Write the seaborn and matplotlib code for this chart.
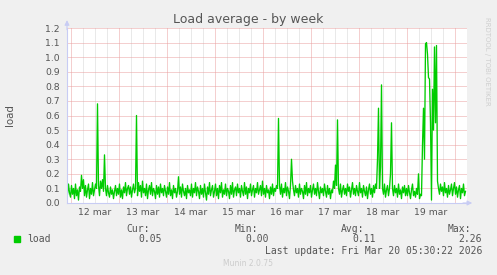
import numpy as np
import pandas as pd
import matplotlib
matplotlib.use("Agg")
import matplotlib.pyplot as plt
import matplotlib.dates as mdates
from matplotlib.patches import Rectangle
import seaborn as sns

# ---- data (30-minute averages) ----
day11 = [0.06, 0.13, 0.07]
day12 = [0.04, 0.12, 0.06, 0.10, 0.03, 0.13, 0.05, 0.09, 0.02, 0.11, 0.08, 0.19,
         0.10, 0.16, 0.05, 0.12, 0.04, 0.09, 0.13, 0.03, 0.10, 0.06, 0.14, 0.05,
         0.09, 0.13, 0.10, 0.68, 0.12, 0.05, 0.15, 0.10, 0.16, 0.08, 0.33, 0.10,
         0.05, 0.12, 0.07, 0.04, 0.11, 0.06, 0.09, 0.03, 0.08, 0.12, 0.05, 0.10]
day13 = [0.06, 0.13, 0.04, 0.09, 0.03, 0.11, 0.07, 0.14, 0.05, 0.10, 0.12, 0.06,
         0.11, 0.04, 0.09, 0.13, 0.07, 0.10, 0.60, 0.05, 0.14, 0.08, 0.12, 0.04,
         0.15, 0.07, 0.10, 0.05, 0.13, 0.03, 0.09, 0.12, 0.06, 0.14, 0.05, 0.10,
         0.08, 0.03, 0.12, 0.06, 0.11, 0.04, 0.13, 0.07, 0.10, 0.05, 0.12, 0.08]
day14 = [0.04, 0.11, 0.06, 0.14, 0.05, 0.09, 0.03, 0.12, 0.07, 0.10, 0.04, 0.08,
         0.18, 0.06, 0.11, 0.04, 0.13, 0.08, 0.05, 0.10, 0.03, 0.12, 0.07, 0.09,
         0.05, 0.13, 0.04, 0.10, 0.07, 0.14, 0.05, 0.11, 0.08, 0.03, 0.12, 0.06,
         0.10, 0.04, 0.13, 0.07, 0.02, 0.11, 0.06, 0.14, 0.05, 0.09, 0.12, 0.04]
day15 = [0.08, 0.13, 0.05, 0.10, 0.03, 0.12, 0.07, 0.14, 0.04, 0.09, 0.06, 0.13,
         0.05, 0.10, 0.08, 0.03, 0.12, 0.06, 0.14, 0.04, 0.09, 0.11, 0.05, 0.13,
         0.07, 0.10, 0.04, 0.12, 0.08, 0.05, 0.14, 0.06, 0.11, 0.03, 0.10, 0.07,
         0.13, 0.05, 0.09, 0.12, 0.04, 0.10, 0.07, 0.14, 0.06, 0.09, 0.12, 0.05]
day16 = [0.15, 0.06, 0.10, 0.04, 0.12, 0.07, 0.09, 0.03, 0.11, 0.06, 0.13, 0.05,
         0.10, 0.08, 0.12, 0.10, 0.58, 0.12, 0.06, 0.13, 0.04, 0.10, 0.07, 0.14,
         0.05, 0.11, 0.08, 0.03, 0.12, 0.30, 0.15, 0.09, 0.05, 0.12, 0.07, 0.10,
         0.04, 0.13, 0.06, 0.10, 0.08, 0.03, 0.12, 0.06, 0.14, 0.05, 0.10, 0.07]
day17 = [0.12, 0.04, 0.09, 0.13, 0.06, 0.10, 0.05, 0.14, 0.08, 0.03, 0.11, 0.07,
         0.10, 0.05, 0.13, 0.08, 0.04, 0.12, 0.06, 0.10, 0.03, 0.09, 0.07, 0.15,
         0.10, 0.26, 0.12, 0.57, 0.10, 0.06, 0.13, 0.04, 0.09, 0.12, 0.06, 0.10,
         0.05, 0.13, 0.08, 0.11, 0.04, 0.09, 0.14, 0.06, 0.10, 0.05, 0.12, 0.08]
day18 = [0.05, 0.14, 0.07, 0.10, 0.04, 0.12, 0.08, 0.05, 0.11, 0.03, 0.09, 0.13,
         0.06, 0.10, 0.04, 0.12, 0.07, 0.13, 0.10, 0.30, 0.65, 0.10, 0.25, 0.81,
         0.10, 0.06, 0.13, 0.04, 0.09, 0.12, 0.05, 0.10, 0.20, 0.55, 0.10, 0.05,
         0.12, 0.07, 0.10, 0.04, 0.13, 0.06, 0.09, 0.03, 0.11, 0.07, 0.12, 0.05]
day19 = [0.10, 0.05, 0.12, 0.07, 0.03, 0.09, 0.13, 0.05, 0.08, 0.04, 0.10, 0.06,
         0.20, 0.03, 0.06, 0.05, 0.40, 0.65, 0.30, 1.09, 1.10, 1.02, 0.86, 0.85,
         0.55, 0.02, 0.78, 0.50, 1.07, 0.55, 1.08, 0.15, 0.10, 0.06, 0.13, 0.08,
         0.11, 0.05, 0.14, 0.07, 0.10, 0.04, 0.12, 0.06, 0.09, 0.13, 0.05, 0.10]
day20 = [0.14, 0.06, 0.11, 0.04, 0.09, 0.12, 0.03, 0.10, 0.07, 0.13, 0.05, 0.08]

start_time = "2026-03-11 22:30"
month_names = ["jan", "feb", "mar", "apr", "may", "jun",
               "jul", "aug", "sep", "oct", "nov", "dec"]
y_ticks = [0.0, 0.1, 0.2, 0.3, 0.4, 0.5, 0.6, 0.7, 0.8, 0.9, 1.0, 1.1, 1.2]

legend_stats = {"Cur:": "0.05", "Min:": "0.00", "Avg:": "0.11", "Max:": "2.26"}
title = "Load average - by week"
last_update = "Last update: Fri Mar 20 05:30:22 2026"

values = day11 + day12 + day13 + day14 + day15 + day16 + day17 + day18 + day19 + day20
times = pd.date_range(start_time, periods=len(values), freq="30min")
df = pd.DataFrame({"time": times, "load": values})

# ---- figure ----
W, H = 497, 275
fig = plt.figure(figsize=(W / 100, H / 100), dpi=100, facecolor="#f0f0f0")
ax = fig.add_axes([67 / W, 1 - 203 / H, 400 / W, 175 / H])
ax.set_facecolor("white")

txt = "#555555"
green = "#00cc00"

sns.lineplot(data=df, x="time", y="load", ax=ax, color=green, linewidth=0.95,
             zorder=3)

x0 = pd.Timestamp("2026-03-11 22:15")
x1 = pd.Timestamp("2026-03-20 06:15")
ax.set_xlim(x0, x1)
ax.set_ylim(0, 1.2)

ax.xaxis.set_major_locator(mdates.HourLocator(byhour=[0]))
ax.xaxis.set_minor_locator(mdates.HourLocator(byhour=[6, 12, 18]))
ax.xaxis.set_major_formatter(plt.NullFormatter())


def minor_fmt(v, pos):
    d = mdates.num2date(v)
    if d.hour == 12:
        return f"{d.day} {month_names[d.month - 1]}"
    return ""


ax.xaxis.set_minor_formatter(plt.FuncFormatter(minor_fmt))
ax.set_yticks(y_ticks)
ax.set_yticklabels([f"{t:.1f}" for t in y_ticks])

ax.tick_params(axis="both", which="both", length=0, colors=txt, labelsize=6.7)
ax.tick_params(axis="x", which="both", pad=3.5)
ax.tick_params(axis="y", pad=5)

grid_style = dict(linestyle=(0, (1, 1)), linewidth=0.72)
ax.grid(which="major", axis="both", color="#eaa0a0", **grid_style)
ax.grid(which="minor", axis="x", color="#d4d4d4", **grid_style)
ax.set_axisbelow(True)

for s in ["top", "right"]:
    ax.spines[s].set_visible(False)
for s in ["left", "bottom"]:
    ax.spines[s].set_color("#c8ccf4")
    ax.spines[s].set_linewidth(0.8)
    ax.spines[s].set_zorder(4)

axis_col = "#c8ccf4"
ax.annotate("", xy=(0, 1.045), xytext=(0, 0.99), xycoords="axes fraction",
            arrowprops=dict(arrowstyle="-|>", color=axis_col, lw=0.8,
                            mutation_scale=7, shrinkA=0, shrinkB=0),
            annotation_clip=False)
ax.annotate("", xy=(1.013, 0), xytext=(0.99, 0), xycoords="axes fraction",
            arrowprops=dict(arrowstyle="-|>", color=axis_col, lw=0.8,
                            mutation_scale=7, shrinkA=0, shrinkB=0),
            annotation_clip=False)

ax.set_xlabel("")
ax.set_ylabel("")

# ---- texts ----
def fx(px):
    return px / W


def fy(py):
    return 1 - py / H


fig.text(fx(248), fy(19), title, ha="center", va="center", fontsize=9,
         color=txt, family="DejaVu Sans")
fig.text(fx(10), fy(115), "load", rotation=90, ha="center", va="center",
         fontsize=7.4, color=txt, family="DejaVu Sans")
fig.text(fx(487), fy(61), "RRDTOOL / TOBI OETIKER", rotation=270,
         ha="center", va="center", fontsize=5, color="#cfcfcf",
         family="DejaVu Sans")

mono = dict(family="DejaVu Sans Mono", fontsize=7, color=txt)
fig.patches.append(Rectangle((fx(14), fy(242)), 6 / W, 6 / H,
                             transform=fig.transFigure, color=green))
fig.text(fx(27), fy(239.5), "load", ha="left", va="center", **mono)

label_right = [150, 258, 364, 471]
value_right = [162, 269, 376, 482]
for (lab, val), lr, vr in zip(legend_stats.items(), label_right, value_right):
    fig.text(fx(lr), fy(228.5), lab, ha="right", va="center", **mono)
    fig.text(fx(vr), fy(239.5), val, ha="right", va="center", **mono)

fig.text(fx(482), fy(251), last_update, ha="right", va="center", **mono)
fig.text(fx(248), fy(264), "Munin 2.0.75", ha="center", va="center",
         fontsize=5.5, color="#cccccc", family="DejaVu Sans")

fig.savefig("out.png", dpi=100, facecolor=fig.get_facecolor())
